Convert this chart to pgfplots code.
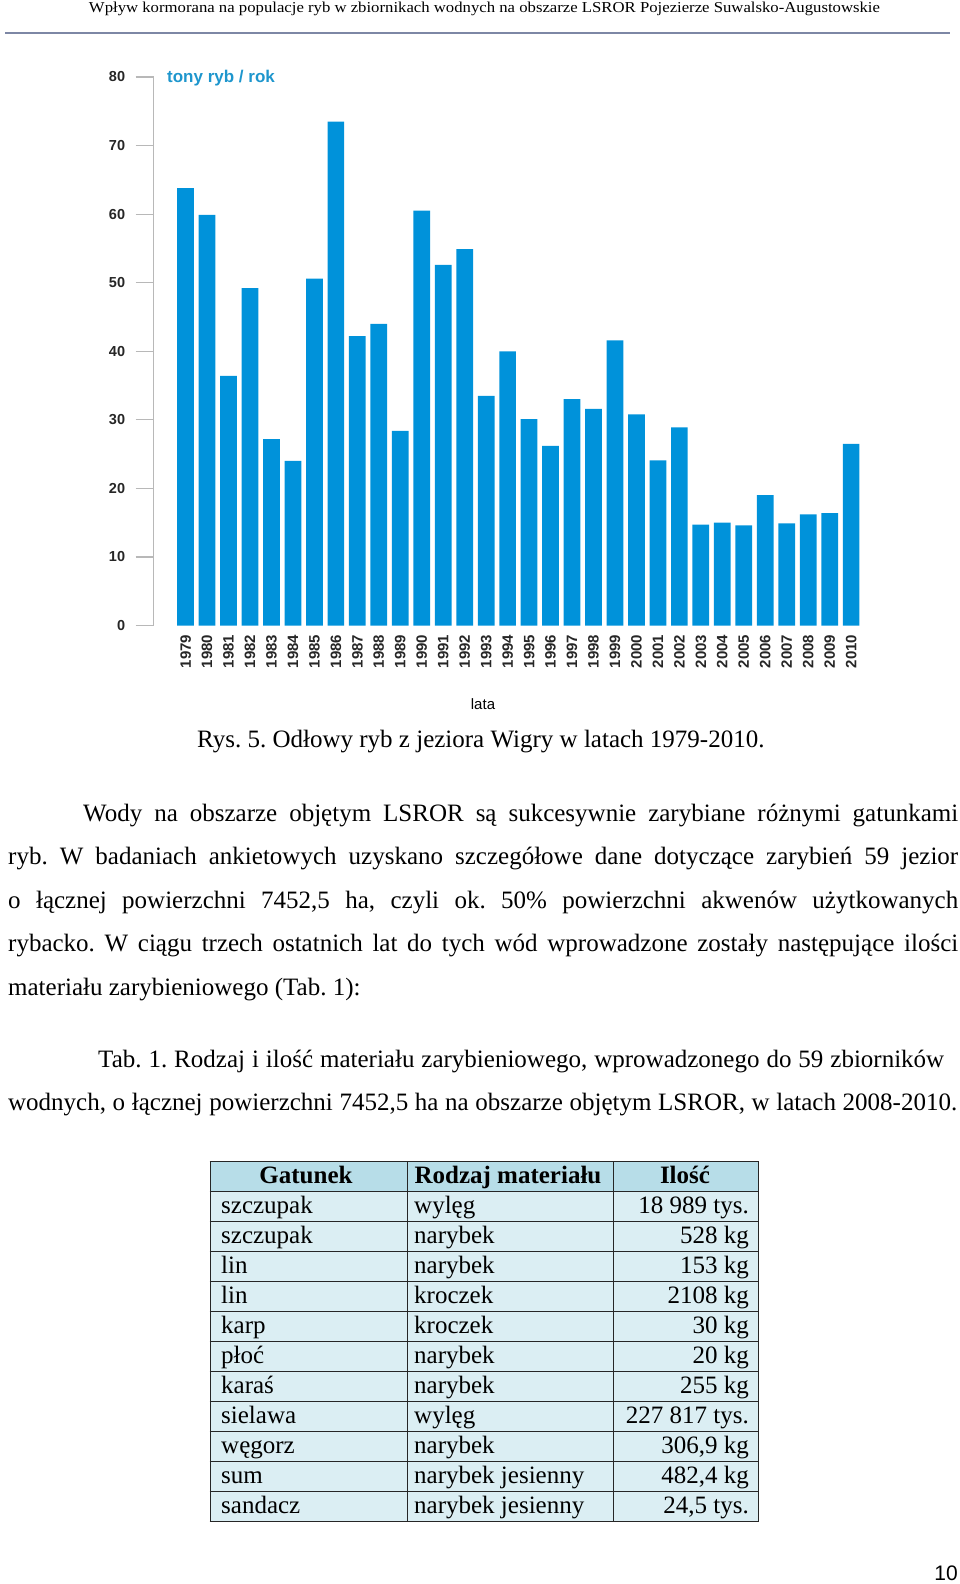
\documentclass[border=0pt]{standalone}
\usepackage{fontspec}
\setmainfont{Liberation Serif}
\newfontfamily\arial{Liberation Sans}
\usepackage{pgfplots}
\pgfplotsset{compat=1.18}
\definecolor{barblue}{RGB}{0,146,218}
\definecolor{titblue}{RGB}{30,150,205}
\definecolor{hdrblue}{RGB}{183,221,232}
\definecolor{rowblue}{RGB}{219,238,243}
\definecolor{hline}{RGB}{125,135,165}
\frenchspacing
\begin{document}
\frenchspacing
\begin{tikzpicture}
\useasboundingbox (0,0) rectangle (960pt,-1584pt);
% running header
\node[anchor=base, inner sep=0] at (484.5pt,-13pt) {\resizebox{791pt}{10.5pt}{\fontsize{16}{18}\selectfont Wpływ kormorana na populacje ryb w zbiornikach wodnych na obszarze LSROR Pojezierze Suwalsko-Augustowskie}};
\draw[hline, line width=2.5pt] (5pt,-33pt) -- (950pt,-33pt);

\begin{axis}[
  at={(153.6pt,-625.5pt)}, anchor=south west,
  scale only axis, width=710.4pt, height=548.5pt,
  xmin=-1.49, xmax=31.6, ymin=0, ymax=80,
  ybar, bar width=16.7pt, bar shift=0pt,
  axis lines*=left,
  x axis line style={draw=none},
  y axis line style={draw=black!28, line width=1.6pt, -},
  xtick={0,...,31},
  xticklabels={1979,1980,1981,1982,1983,1984,1985,1986,1987,1988,1989,1990,1991,1992,1993,1994,1995,1996,1997,1998,1999,2000,2001,2002,2003,2004,2005,2006,2007,2008,2009,2010},
  x tick style={draw=none},
  xtick align=inside,
  ytick={0,10,...,80},
  y tick style={draw=black!28, line width=1.2pt},
  ytick align=outside, major tick length=18pt,
  xticklabel style={rotate=90, anchor=east, xshift=-9pt, inner sep=0pt, font=\arial\bfseries\fontsize{15}{16}\selectfont, text=black!85},
  yticklabel style={font=\arial\bfseries\fontsize{14.5}{15}\selectfont, anchor=east, xshift=-7pt, text=black!85},
  /pgf/number format/assume math mode=true,
  clip=false,
]
\addplot[fill=barblue, draw=none] coordinates {
(0,63.8) (1,59.9) (2,36.4) (3,49.2) (4,27.2) (5,24.0) (6,50.6) (7,73.5)
(8,42.2) (9,44.0) (10,28.4) (11,60.5) (12,52.6) (13,54.9) (14,33.5) (15,40.0)
(16,30.1) (17,26.2) (18,33.0) (19,31.6) (20,41.6) (21,30.8) (22,24.1) (23,28.9)
(24,14.7) (25,15.0) (26,14.6) (27,19.0) (28,14.9) (29,16.2) (30,16.4) (31,26.5)
};
\end{axis}
\node[anchor=west, inner sep=0, text=titblue, font=\arial\bfseries\fontsize{17}{18}\selectfont] at (167pt,-78pt) {tony ryb / rok};
\node[font=\arial\fontsize{15}{16}\selectfont] at (483pt,-704pt) {lata};

% caption and text
\begin{scope}[every node/.style={anchor=base west, inner sep=0, font=\fontsize{25}{30}\selectfont\frenchspacing}]
\node at (197pt,-747pt) {Rys. 5. Odłowy ryb z jeziora Wigry w latach 1979-2010.};
\node at (83pt,-821pt) {\makebox[875pt][s]{Wody na obszarze objętym LSROR są sukcesywnie zarybiane różnymi gatunkami}};
\node at (8pt,-864.5pt) {\makebox[950pt][s]{ryb. W badaniach ankietowych uzyskano szczegółowe dane dotyczące zarybień 59 jezior}};
\node at (8pt,-908pt) {\makebox[950pt][s]{o łącznej powierzchni 7452,5 ha, czyli ok. 50\% powierzchni akwenów użytkowanych}};
\node at (8pt,-951.5pt) {\makebox[950pt][s]{rybacko. W ciągu trzech ostatnich lat do tych wód wprowadzone zostały następujące ilości}};
\node at (8pt,-995pt) {materiału zarybieniowego (Tab. 1):};
\node at (98pt,-1067pt) {\makebox[846pt][s]{Tab. 1. Rodzaj i ilość materiału zarybieniowego, wprowadzonego do 59 zbiorników}};
\node at (8pt,-1110.5pt) {\makebox[949pt][s]{wodnych, o łącznej powierzchni 7452,5 ha na obszarze objętym LSROR, w latach 2008-2010.}};
\end{scope}

% table
\fill[hdrblue] (210pt,-1161pt) rectangle (758pt,-1191pt);
\fill[rowblue] (210pt,-1191pt) rectangle (758pt,-1521pt);
\foreach \i in {0,...,12} \draw[black!85, line width=1pt] (209.5pt,{-(1161+30*\i)*1pt}) -- (758.5pt,{-(1161+30*\i)*1pt});
\foreach \x in {210,407,613,758} \draw[black!85, line width=1pt] (\x pt,-1161pt) -- (\x pt,-1521pt);
\begin{scope}[every node/.style={inner sep=0, font=\fontsize{25}{30}\selectfont}]
\node[anchor=base, font=\fontsize{25}{30}\selectfont\bfseries] at (306pt,-1183pt) {Gatunek};
\node[anchor=base, font=\fontsize{25}{30}\selectfont\bfseries] at (508pt,-1183pt) {Rodzaj materiału};
\node[anchor=base, font=\fontsize{25}{30}\selectfont\bfseries] at (685pt,-1183pt) {Ilość};
\foreach \a/\b/\c [count=\i] in {
  szczupak/wylęg/{18 989 tys.},
  szczupak/narybek/{528 kg},
  lin/narybek/{153 kg},
  lin/kroczek/{2108 kg},
  karp/kroczek/{30 kg},
  płoć/narybek/{20 kg},
  karaś/narybek/{255 kg},
  sielawa/wylęg/{227 817 tys.},
  węgorz/narybek/{306,9 kg},
  sum/{narybek jesienny}/{482,4 kg},
  sandacz/{narybek jesienny}/{24,5 tys.}}{
  \node[anchor=base west] at (221pt,{-(1183+30*\i)*1pt}) {\a};
  \node[anchor=base west] at (414pt,{-(1183+30*\i)*1pt}) {\b};
  \node[anchor=base east] at (749pt,{-(1183+30*\i)*1pt}) {\c};
}
\end{scope}
\node[anchor=base east, inner sep=0, font=\arial\fontsize{21}{22}\selectfont] at (958pt,-1580pt) {10};
\end{tikzpicture}
\end{document}
